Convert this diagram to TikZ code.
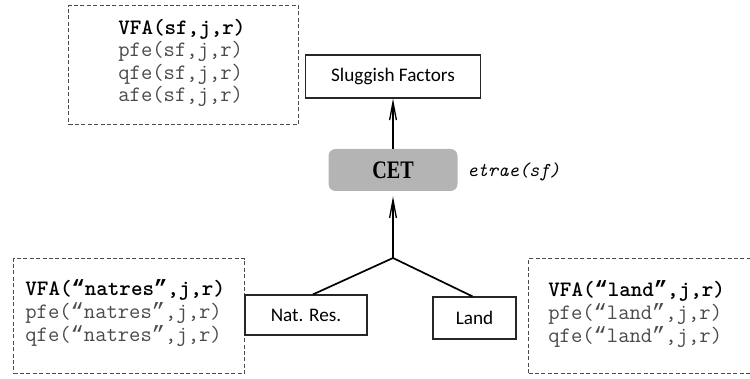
\documentclass[tikz,border=0pt]{standalone}
\usepackage{fontspec}
\newfontfamily\labfont{Carlito}
\newfontfamily\cetfont[FakeStretch=0.8]{Liberation Serif}
\newfontfamily\qtfont{Liberation Mono}
\newcommand{\myoq}{{\qtfont “}}
\newcommand{\mycq}{{\qtfont ”}}
\usetikzlibrary{arrows.meta}
\definecolor{txtgray}{HTML}{4A4A4A}
\definecolor{cetgray}{HTML}{B4B4B4}
\begin{document}
\begin{tikzpicture}[x=0.5pt,y=-0.5pt,
  dbox/.style={draw=black!70, dash pattern=on 2pt off 1.2pt, line width=0.6pt, inner sep=0pt, anchor=north west},
  mono/.style={font=\ttfamily\fontsize{11pt}{10pt}\selectfont, align=left, inner sep=0pt, anchor=north west},
  lbox/.style={draw=black!85, line width=0.6pt, inner sep=0pt, font=\labfont\fontsize{9.6pt}{10pt}\selectfont},
  conn/.style={line width=0.85pt, black},
  arr/.style={conn, -{Straight Barb[length=9pt,width=3.4pt,line width=0.65pt]}},
]
\useasboundingbox (0,0) rectangle (750,379);
\clip (0,0) rectangle (750,379);

% dashed boxes
\node[dbox, minimum width=115pt, minimum height=59.5pt] (tbox) at (68,5) {};
\node[dbox, minimum width=115.5pt, minimum height=57.5pt] (lbox) at (13,258) {};
\node[dbox, minimum width=118pt, minimum height=57.5pt] (rbox) at (528,258) {};

% texts
\node[mono] (ttxt) at (118,19) {\textbf{VFA(sf,j,r)}\\\textcolor{txtgray}{pfe(sf,j,r)}\\\textcolor{txtgray}{qfe(sf,j,r)}\\\textcolor{txtgray}{afe(sf,j,r)}};
\node[mono] (ltxt) at (25,279) {\textbf{VFA(\myoq natres\mycq,j,r)}\\\textcolor{txtgray}{pfe(\myoq natres\mycq,j,r)}\\\textcolor{txtgray}{qfe(\myoq natres\mycq,j,r)}};
\node[mono] (rtxt) at (548,280) {\textbf{VFA(\myoq land\mycq,j,r)}\\\textcolor{txtgray}{pfe(\myoq land\mycq,j,r)}\\\textcolor{txtgray}{qfe(\myoq land\mycq,j,r)}};

% solid boxes
\node[lbox, minimum width=87.5pt, minimum height=21.5pt] (slug) at (393,76.5) {Sluggish Factors};
\node[fill=cetgray, rounded corners=3.5pt, minimum width=64.5pt, minimum height=21pt, inner sep=0pt,
      font=\cetfont\bfseries\fontsize{12.6pt}{13pt}\selectfont] (cet) at (393,170) {CET};
\node[font=\ttfamily\itshape\fontsize{9.8pt}{10pt}\selectfont, anchor=west, inner sep=0pt] (etrae) at (467,172) {etrae(sf)};
\node[lbox, minimum width=61pt, minimum height=20pt] (nat) at (306,315) {Nat. Res.};
\node[lbox, minimum width=41.5pt, minimum height=21pt] (land) at (474.5,318) {Land};

\coordinate (j) at (393,258);

% connectors
\draw[arr] (cet.north) -- (slug.south);
\draw[arr] (j) -- ([yshift=-2.5pt]cet.south);
\draw[conn] (j) -- ([xshift=3.5pt]nat.north);
\draw[conn] (j) -- ([xshift=-1pt]land.north);
\end{tikzpicture}
\end{document}
